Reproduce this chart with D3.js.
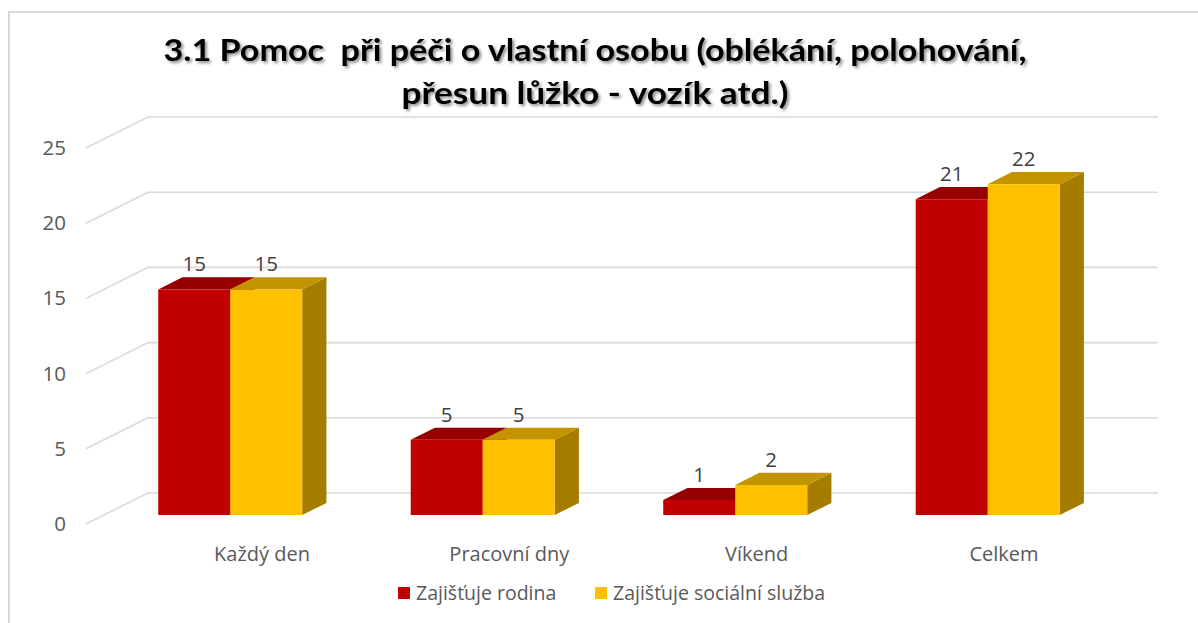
<!DOCTYPE html>
<html>
<head>
<meta charset="utf-8">
<script src="https://cdn.jsdelivr.net/npm/d3@7"></script>
<style>
  html, body { margin: 0; padding: 0; background: #fff; }
  svg { display: block; }
  text { white-space: pre; }
</style>
</head>
<body>
<svg id="chart" width="1198" height="623"></svg>
<script>
// ---- data ----
const titleLines = ["3.1 Pomoc  při péči o vlastní osobu (oblékání, polohování,", "přesun lůžko - vozík atd.)"];
const categories = ["Každý den", "Pracovní dny", "Víkend", "Celkem"];
const seriesNames = ["Zajišťuje rodina", "Zajišťuje sociální služba"];
const rodina = [15, 5, 1, 21];
const socialniSluzba = [15, 5, 2, 22];
const yTicks = [0, 5, 10, 15, 20, 25];

// ---- style ----
const FONT = "'Open Sans', Lato, sans-serif";
const TITLE_FONT = "Lato, 'Open Sans', sans-serif";
const colors = [
  { front: "#C00000", top: "#960000", side: "#8a0000" },
  { front: "#FFC000", top: "#C49300", side: "#A67C00" }
];

const svg = d3.select("#chart");

// chart border
svg.append("rect").attr("x", 9).attr("y", 12).attr("width", 1200).attr("height", 620)
  .attr("fill", "none").attr("stroke", "#d9d9d9").attr("stroke-width", 2);

// 3D oblique projection: depth d in [0,1] from front to back wall
const DEPTH_DX = 62, DEPTH_DY = -31;
const proj = (x, y, d) => [x + DEPTH_DX * d, y + DEPTH_DY * d];

const y = d3.scaleLinear().domain([0, 25]).range([524, 148]);
const x = d3.scaleBand().domain(categories).range([86, 1096]).paddingInner(0).paddingOuter(0);
const barW = 72;
const xSub = d3.scaleBand().domain(seriesNames).range([-barW, barW]);
const barFrontD = 0.29, barBackD = 0.68;
const wallRight = 1158;

// gridlines: front diagonal + back wall
const grid = svg.append("g");
yTicks.forEach(t => {
  const p0 = proj(86, y(t), 0), p1 = proj(86, y(t), 1);
  grid.append("polyline")
    .attr("points", [p0, p1, [wallRight, p1[1]]].map(p => p.join(",")).join(" "))
    .attr("fill", "none").attr("stroke", "#d9d9d9").attr("stroke-width", 1.6);
});

// y tick labels
svg.append("g").selectAll("text").data(yTicks).join("text")
  .attr("x", 66).attr("y", d => y(d) + 7)
  .attr("text-anchor", "end")
  .attr("font-family", FONT).attr("font-size", 20.5).attr("fill", "#595959")
  .text(d => d);

// bars
const seriesData = [rodina, socialniSluzba];
const barsG = svg.append("g");
categories.forEach((c, i) => {
  const cx = x(c) + x.bandwidth() / 2;
  seriesNames.forEach((s, si) => {
    const v = seriesData[si][i];
    const x0 = cx + xSub(s), x1 = x0 + xSub.bandwidth();
    const yb = y(0), yt = y(v);
    const F = (px, py) => proj(px, py, barFrontD);
    const B = (px, py) => proj(px, py, barBackD);
    const col = colors[si];
    const poly = (pts, fill) => barsG.append("polygon")
      .attr("points", pts.map(p => p.join(",")).join(" ")).attr("fill", fill);
    poly([F(x1, yb), B(x1, yb), B(x1, yt), F(x1, yt)], col.side);
    poly([F(x0, yt), B(x0, yt), B(x1, yt), F(x1, yt)], col.top);
    poly([F(x0, yb), F(x1, yb), F(x1, yt), F(x0, yt)], col.front);
    const lf = F((x0 + x1) / 2, yt);
    barsG.append("text")
      .attr("x", lf[0]).attr("y", lf[1] - 18)
      .attr("text-anchor", "middle")
      .attr("font-family", FONT).attr("font-size", 20.5).attr("fill", "#404040")
      .text(v);
  });
});

// category labels
const xLab = d3.scalePoint().domain(categories).range([262, 1004]);
svg.append("g").selectAll("text").data(categories).join("text")
  .attr("x", d => xLab(d)).attr("y", 561)
  .attr("text-anchor", "middle")
  .attr("font-family", FONT).attr("font-size", 20).attr("fill", "#595959")
  .text(d => d);

// legend
const legend = svg.append("g");
const legX = [398, 595];
seriesNames.forEach((s, si) => {
  legend.append("rect").attr("x", legX[si]).attr("y", 587).attr("width", 12).attr("height", 12)
    .attr("fill", colors[si].front);
  legend.append("text").attr("x", legX[si] + 18).attr("y", 600)
    .attr("font-family", FONT).attr("font-size", 19.5).attr("fill", "#595959")
    .text(s);
});

// title with shadow
const defs = svg.append("defs");
const f = defs.append("filter").attr("id", "shadow").attr("x", "-5%").attr("y", "-30%").attr("width", "110%").attr("height", "160%");
f.append("feDropShadow").attr("dx", 2).attr("dy", 2).attr("stdDeviation", 1.5)
  .attr("flood-color", "#000").attr("flood-opacity", 0.45);
const titleG = svg.append("g").attr("filter", "url(#shadow)");
const titleWidths = [863, 387];
titleLines.forEach((t, i) => {
  titleG.append("text").attr("x", 595).attr("y", 61 + i * 43)
    .attr("text-anchor", "middle")
    .attr("font-family", TITLE_FONT).attr("font-weight", "bold").attr("font-size", 30).attr("fill", "#000")
    .attr("textLength", titleWidths[i]).attr("lengthAdjust", "spacingAndGlyphs")
    .text(t);
});
</script>
</body>
</html>
